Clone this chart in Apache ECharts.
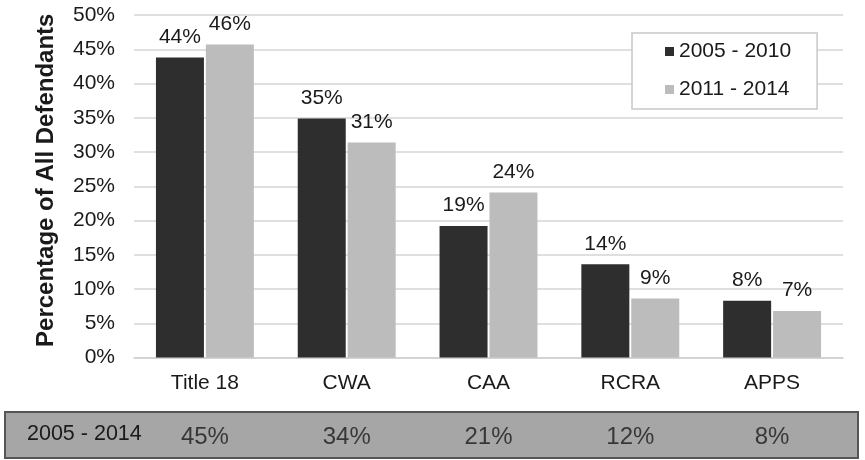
<!DOCTYPE html>
<html>
<head>
<meta charset="utf-8">
<script src="https://cdn.jsdelivr.net/npm/echarts@6/dist/echarts.min.js"></script>
<style>
  html, body { margin: 0; padding: 0; background: #ffffff; }
  #chart { width: 865px; height: 460px; }
</style>
</head>
<body>
<div id="chart"></div>
<script>
// Statutes charged
const categories = ['Title 18', 'CWA', 'CAA', 'RCRA', 'APPS'];
// Share of all defendants (%) per period
const period1Name = '2005 - 2010';
const period1 = [43.8, 34.9, 19.2, 13.6, 8.3];
const period2Name = '2011 - 2014';
const period2 = [45.7, 31.4, 24.1, 8.6, 6.8];
// Whole-period share (%)
const totalName = '2005 - 2014';
const totals = [45, 34, 21, 12, 8];
// Y axis ticks
const yTicks = [0, 5, 10, 15, 20, 25, 30, 35, 40, 45, 50];

const FONT = '"Liberation Sans", Arial, sans-serif';
const TEXT = '#1a1a1a';

const chart = echarts.init(document.getElementById('chart'), null, { renderer: 'canvas' });

const barLabel = {
  show: true,
  position: 'top',
  distance: 10,
  fontFamily: FONT,
  fontSize: 21,
  color: TEXT,
  formatter: p => Math.round(p.value) + '%'
};

chart.setOption({
  backgroundColor: '#ffffff',
  animation: false,
  textStyle: { fontFamily: FONT },
  grid: [
    { left: 134, right: 22, top: 15, bottom: 102.5 },
    { left: 134, right: 22, top: 412, height: 46 }
  ],
  legend: {
    orient: 'vertical',
    left: 632,
    top: 33,
    padding: [8, 26, 9, 33],
    itemGap: 17,
    itemWidth: 9,
    itemHeight: 9,
    icon: 'rect',
    backgroundColor: '#ffffff',
    borderColor: '#c8c8c8',
    borderWidth: 1.5,
    textStyle: { fontFamily: FONT, fontSize: 21, color: TEXT },
    data: [period1Name, period2Name]
  },
  xAxis: [
    {
      gridIndex: 0,
      type: 'category',
      data: categories,
      axisTick: { show: false },
      axisLine: { lineStyle: { color: '#d0d0d0', width: 1.5 } },
      axisLabel: { margin: 15, fontFamily: FONT, fontSize: 21, color: TEXT }
    },
    {
      gridIndex: 1,
      type: 'category',
      data: categories,
      show: false
    }
  ],
  yAxis: [
    {
      gridIndex: 0,
      type: 'value',
      min: yTicks[0],
      max: yTicks[yTicks.length - 1],
      interval: yTicks[1] - yTicks[0],
      name: 'Percentage of All Defendants',
      nameLocation: 'middle',
      nameGap: 76,
      nameTextStyle: {
        fontFamily: FONT, fontSize: 24, fontWeight: 'bold', color: TEXT,
        padding: [0, 0, 0, 12]
      },
      axisLine: { show: false },
      axisTick: { show: false },
      axisLabel: { margin: 19, fontFamily: FONT, fontSize: 21, color: TEXT, formatter: v => v + '%' },
      splitLine: { lineStyle: { color: '#d4d4d4', width: 1.5 } }
    },
    {
      gridIndex: 1,
      type: 'value',
      min: 0,
      max: 1,
      show: false
    }
  ],
  graphic: [
    {
      type: 'rect',
      z: 0,
      shape: { x: 5, y: 412, width: 853, height: 46 },
      style: { fill: '#a6a6a6', stroke: '#555555', lineWidth: 2 }
    },
    {
      type: 'text',
      z: 1,
      left: 27,
      top: 423,
      style: { text: totalName, fontFamily: FONT, fontSize: 21.5, fill: TEXT }
    }
  ],
  series: [
    {
      name: period1Name,
      type: 'bar',
      xAxisIndex: 0,
      yAxisIndex: 0,
      data: period1,
      barWidth: 48,
      barGap: '4%',
      itemStyle: { color: '#2e2e2e' },
      label: barLabel
    },
    {
      name: period2Name,
      type: 'bar',
      xAxisIndex: 0,
      yAxisIndex: 0,
      data: period2,
      barWidth: 48,
      barGap: '4%',
      itemStyle: { color: '#bcbcbc' },
      label: barLabel
    },
    {
      name: totalName,
      type: 'scatter',
      xAxisIndex: 1,
      yAxisIndex: 1,
      symbolSize: 0,
      z: 5,
      data: totals.map((v, i) => [categories[i], 0.5]),
      label: {
        show: true,
        position: 'inside',
        offset: [0, 2],
        fontFamily: FONT,
        fontSize: 24,
        color: TEXT,
        formatter: p => totals[p.dataIndex] + '%'
      }
    }
  ]
});
</script>
</body>
</html>
